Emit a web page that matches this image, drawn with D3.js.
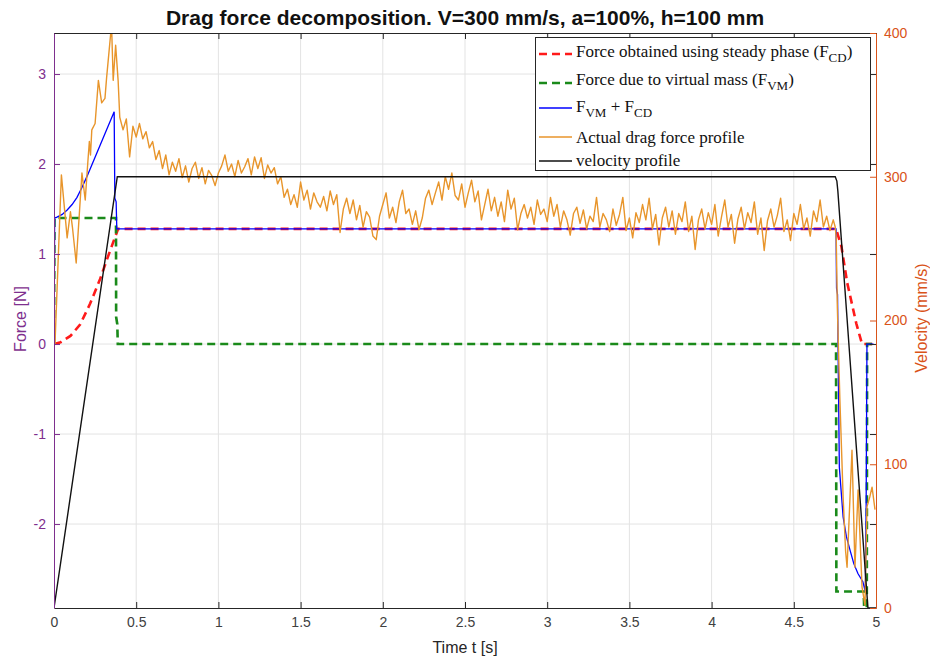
<!DOCTYPE html>
<html lang="en">
<head>
<meta charset="utf-8">
<title>Drag force decomposition</title>
<style>
  body { margin: 0; background: #fff; }
  svg text { font-family: "Liberation Sans", Arial, sans-serif; }
</style>
</head>
<body>
<script src="https://cdn.jsdelivr.net/npm/d3@7"></script>
<script>
// ---- values ----
var timeTicks = [0, 0.5, 1, 1.5, 2, 2.5, 3, 3.5, 4, 4.5, 5];
var forceTicks = [-2, -1, 0, 1, 2, 3];
var velTicks = [0, 100, 200, 300, 400];

// force obtained using steady phase (F_CD)
var fcdT = [0, 0.04, 0.10, 0.16, 0.22, 0.28, 0.33, 0.37, 0.39, 4.757, 4.79, 4.825, 4.88, 4.915, 4.985];
var fcdF = [0, 0.02, 0.09, 0.22, 0.45, 0.72, 0.98, 1.18, 1.28, 1.28, 1.08, 0.68, 0.23, 0, 0];

// force due to virtual mass (F_VM)
var fvmT = [0, 0.003, 0.377, 0.378, 0.385, 0.388, 4.757, 4.759, 4.925, 4.928, 4.944, 4.946, 4.985];
var fvmF = [0, 1.40, 1.40, 0.30, 0.22, 0, 0, -2.75, -2.75, -2.93, -2.93, 0, 0];

// F_VM + F_CD
var sumT = [0, 0.004, 0.018, 0.05, 0.08, 0.11, 0.14, 0.17, 0.20, 0.23, 0.26, 0.29, 0.32, 0.345, 0.366, 0.37, 0.378, 0.382,
            4.757, 4.760, 4.766, 4.777, 4.80, 4.82, 4.842, 4.865, 4.89, 4.92, 4.935, 4.94, 4.945, 4.985];
var sumF = [0, 1.40, 1.41, 1.44, 1.49, 1.55, 1.63, 1.74, 1.86, 1.99, 2.12, 2.25, 2.38, 2.49, 2.58, 1.62, 1.58, 1.28,
            1.28, 0.62, 0.55, -1.37, -1.92, -2.14, -2.29, -2.44, -2.55, -2.64, -2.75, -1.81, 0, 0];

// actual drag force profile: start, steady part (every 0.02 s from 0.40 s), end
var dragStartT = [0, 0.006, 0.045, 0.08, 0.10, 0.112, 0.135, 0.17, 0.19, 0.205, 0.215, 0.222, 0.23, 0.25, 0.27, 0.29, 0.31, 0.32, 0.35, 0.36, 0.375, 0.39];
var dragStartF = [0, 0, 1.88, 1.18, 1.47, 1.30, 0.90, 1.90, 1.60, 2.00, 2.25, 2.10, 2.38, 2.45, 2.93, 2.68, 2.73, 2.96, 3.55, 2.93, 3.32, 2.93];
var dragMidT0 = 0.40, dragMidStep = 0.02;
var dragMidF = [
  2.52, 2.38, 2.50, 2.08, 2.42, 2.30, 2.45, 2.28, 2.36, 2.18,
  2.25, 2.05, 2.15, 1.95, 2.10, 1.88, 2.02, 1.92, 2.06, 1.85,
  1.98, 1.80, 1.95, 2.02, 1.84, 1.96, 1.78, 1.93, 1.87, 1.76,
  1.90, 1.98, 2.10, 1.92, 2.00, 1.86, 2.04, 1.90, 1.97, 2.06,
  1.88, 2.08, 1.95, 2.07, 1.84, 1.99, 1.90, 1.96, 1.78, 1.86,
  1.63, 1.72, 1.55, 1.66, 1.52, 1.80, 1.60, 1.71, 1.50, 1.68,
  1.58, 1.52, 1.64, 1.48, 1.70, 1.55, 1.66, 1.24, 1.50, 1.62,
  1.45, 1.60, 1.38, 1.54, 1.30, 1.47, 1.41, 1.20, 1.16, 1.42,
  1.55, 1.68, 1.40, 1.52, 1.35, 1.58, 1.71, 1.45, 1.50, 1.33,
  1.48, 1.27, 1.40, 1.62, 1.71, 1.55, 1.68, 1.80, 1.60, 1.86,
  1.72, 1.90, 1.65, 1.60, 1.78, 1.52, 1.68, 1.82, 1.58, 1.70,
  1.38, 1.55, 1.72, 1.48, 1.63, 1.42, 1.58, 1.36, 1.71, 1.50,
  1.62, 1.27, 1.45, 1.55, 1.40, 1.52, 1.33, 1.60, 1.44, 1.50,
  1.36, 1.63, 1.42, 1.55, 1.30, 1.48, 1.38, 1.21, 1.45, 1.52,
  1.34, 1.49, 1.28, 1.42, 1.36, 1.63, 1.30, 1.45, 1.38, 1.25,
  1.50, 1.32, 1.44, 1.63, 1.26, 1.40, 1.18, 1.46, 1.35, 1.55,
  1.38, 1.62, 1.28, 1.44, 1.10, 1.40, 1.52, 1.30, 1.48, 1.22,
  1.45, 1.36, 1.58, 1.25, 1.42, 1.05, 1.38, 1.50, 1.28, 1.46,
  1.33, 1.55, 1.20, 1.41, 1.60, 1.30, 1.44, 1.12, 1.39, 1.52,
  1.28, 1.46, 1.35, 1.58, 1.22, 1.40, 1.04, 1.37, 1.50, 1.30,
  1.43, 1.62, 1.25, 1.38, 1.15, 1.45, 1.33, 1.55, 1.28, 1.40,
  1.20, 1.48, 1.36, 1.60, 1.30, 1.42, 1.26, 1.38
];
var dragEndT = [4.752, 4.758, 4.765, 4.78, 4.80, 4.815, 4.824, 4.854, 4.872, 4.891, 4.915, 4.933, 4.945, 4.962, 4.976, 4.994];
var dragEndF = [1.30, 1.18, 0.40, -0.60, -1.70, -2.30, -2.48, -1.18, -2.48, -1.62, -2.70, -2.90, -1.81, -1.70, -1.59, -1.84];

// velocity profile (right axis, mm/s)
var velT = [0, 0.385, 4.752, 4.762, 4.768, 4.951, 5];
var velV = [0, 300, 300, 297, 290, 0, 0];

// ---- chart ----
var w = 930, h = 659;
var pLeft = 54, pRight = 876, pTop = 33, pBottom = 608;
var purple = "#7E2F8E", rust = "#D95319", axisGray = "#262626";

var x = d3.scaleLinear().domain([0, 5]).range([pLeft, pRight]);
var yF = d3.scaleLinear().domain([-2.933, 3.456]).range([pBottom, pTop]);
var yV = d3.scaleLinear().domain([0, 400]).range([pBottom, pTop]);

function zip(ts, vs) { return ts.map(function(t, i) { return [t, vs[i]]; }); }

var dragData = zip(dragStartT, dragStartF)
  .concat(dragMidF.map(function(v, i) { return [dragMidT0 + i * dragMidStep, v]; }))
  .concat(zip(dragEndT, dragEndF));

var svg = d3.select("body").append("svg")
  .attr("width", w).attr("height", h);

svg.append("defs").append("clipPath").attr("id", "plotClip")
  .append("rect").attr("x", pLeft).attr("y", pTop)
  .attr("width", pRight - pLeft).attr("height", pBottom - pTop);

// grid
var grid = svg.append("g").attr("stroke", "#e3e3e3").attr("stroke-width", 1);
grid.selectAll("line.gx").data(timeTicks.slice(1, -1)).enter().append("line")
  .attr("x1", function(d) { return x(d); }).attr("x2", function(d) { return x(d); })
  .attr("y1", pTop).attr("y2", pBottom);
grid.selectAll("line.gy").data(forceTicks).enter().append("line")
  .attr("y1", function(d) { return yF(d); }).attr("y2", function(d) { return yF(d); })
  .attr("x1", pLeft).attr("x2", pRight);

var plot = svg.append("g").attr("clip-path", "url(#plotClip)");

var lineF = d3.line().x(function(d) { return x(d[0]); }).y(function(d) { return yF(d[1]); });
var lineV = d3.line().x(function(d) { return x(d[0]); }).y(function(d) { return yV(d[1]); });

plot.append("path").datum(zip(fcdT, fcdF)).attr("d", lineF)
  .attr("fill", "none").attr("stroke", "#ff1a1a").attr("stroke-width", 2.6)
  .attr("stroke-dasharray", "8,5");
plot.append("path").datum(zip(fvmT, fvmF)).attr("d", lineF)
  .attr("fill", "none").attr("stroke", "#1a8a1a").attr("stroke-width", 2.6)
  .attr("stroke-dasharray", "8,5");
plot.append("path").datum(zip(sumT, sumF)).attr("d", lineF)
  .attr("fill", "none").attr("stroke", "#0000ff").attr("stroke-width", 1.3);
plot.append("path").datum(dragData).attr("d", lineF)
  .attr("fill", "none").attr("stroke", "#E8952B").attr("stroke-width", 1.4)
  .attr("stroke-linejoin", "round");
plot.append("path").datum(zip(velT, velV)).attr("d", lineV)
  .attr("fill", "none").attr("stroke", "#111").attr("stroke-width", 1.4);

// axes
function styleAxis(g, color) {
  g.select(".domain").attr("stroke", color);
  g.selectAll(".tick line").attr("stroke", color);
  g.selectAll(".tick text").attr("fill", color).attr("font-size", 14)
    .attr("font-family", "Liberation Sans, Arial, sans-serif");
}
var fmt = function(d) { return String(d); };

var xAxis = svg.append("g").attr("transform", "translate(0," + pBottom + ")")
  .call(d3.axisBottom(x).tickValues(timeTicks).tickFormat(fmt)
    .tickSize(-6).tickSizeOuter(0).tickPadding(9));
styleAxis(xAxis, axisGray);
xAxis.selectAll(".tick text").attr("fill", "#404040");

var xTop = svg.append("g").attr("transform", "translate(0," + pTop + ")")
  .call(d3.axisTop(x).tickValues(timeTicks).tickFormat("").tickSize(-6).tickSizeOuter(0));
styleAxis(xTop, axisGray);

var yLeft = svg.append("g").attr("transform", "translate(" + pLeft + ",0)")
  .call(d3.axisLeft(yF).tickValues(forceTicks).tickFormat(fmt)
    .tickSize(-6).tickSizeOuter(0).tickPadding(8));
styleAxis(yLeft, purple);

// left-axis ticks repeated on the right edge
var yLeftMirror = svg.append("g").attr("transform", "translate(" + pRight + ",0)")
  .call(d3.axisRight(yF).tickValues(forceTicks).tickFormat("").tickSize(-6).tickSizeOuter(0));
styleAxis(yLeftMirror, axisGray);
yLeftMirror.select(".domain").remove();

var yRight = svg.append("g").attr("transform", "translate(" + pRight + ",0)")
  .call(d3.axisRight(yV).tickValues(velTicks).tickFormat(fmt)
    .tickSize(-6).tickSizeOuter(0).tickPadding(8));
styleAxis(yRight, rust);

// titles
svg.append("text").attr("x", 465).attr("y", 25).attr("text-anchor", "middle")
  .attr("font-size", 21).attr("font-weight", "bold").attr("fill", "#111")
  .text("Drag force decomposition. V=300 mm/s, a=100%, h=100 mm");
svg.append("text").attr("x", 465).attr("y", 653).attr("text-anchor", "middle")
  .attr("font-size", 16).attr("fill", "#262626").text("Time t [s]");
svg.append("text").attr("transform", "translate(20,319) rotate(-90)")
  .attr("text-anchor", "middle").attr("dy", "0.35em")
  .attr("font-size", 16).attr("fill", purple).text("Force [N]");
svg.append("text").attr("transform", "translate(921,318) rotate(-90)")
  .attr("text-anchor", "middle").attr("dy", "0.35em")
  .attr("font-size", 16).attr("fill", rust).text("Velocity (mm/s)");

// legend
var lg = svg.append("g");
lg.append("rect").attr("x", 535.5).attr("y", 37.5).attr("width", 335).attr("height", 133)
  .attr("fill", "#fff").attr("stroke", axisGray).attr("stroke-width", 1);

var legendRows = [
  {stroke: "#ff1a1a", dash: "8,5", width: 2.6, ly: 54, ty: 57,
   parts: [["Force obtained using steady phase (F", 0], ["CD", 1], [")", 0]]},
  {stroke: "#1a8a1a", dash: "8,5", width: 2.6, ly: 83, ty: 85,
   parts: [["Force due to virtual mass (F", 0], ["VM", 1], [")", 0]]},
  {stroke: "#0000ff", dash: null, width: 1.3, ly: 108, ty: 112,
   parts: [["F", 0], ["VM", 1], [" + F", 0], ["CD", 1]]},
  {stroke: "#E8952B", dash: null, width: 1.3, ly: 137, ty: 143,
   parts: [["Actual drag force profile", 0]]},
  {stroke: "#111", dash: null, width: 1.3, ly: 161, ty: 166,
   parts: [["velocity profile", 0]]}
];

legendRows.forEach(function(r) {
  lg.append("line").attr("x1", 539).attr("x2", 572).attr("y1", r.ly).attr("y2", r.ly)
    .attr("stroke", r.stroke).attr("stroke-width", r.width)
    .attr("stroke-dasharray", r.dash);
  var t = lg.append("text").attr("x", 576).attr("y", r.ty)
    .attr("font-size", 17).attr("fill", "#111");
  var shifted = false;
  r.parts.forEach(function(p) {
    var s = t.append("tspan").text(p[0]).style("font-family", "Liberation Serif, Times New Roman, serif");
    if (p[1] && !shifted) { s.attr("dy", 5).attr("font-size", 13); shifted = true; }
    else if (p[1]) { s.attr("font-size", 13); }
    else if (shifted) { s.attr("dy", -5); shifted = false; }
  });
});
</script>
</body>
</html>
